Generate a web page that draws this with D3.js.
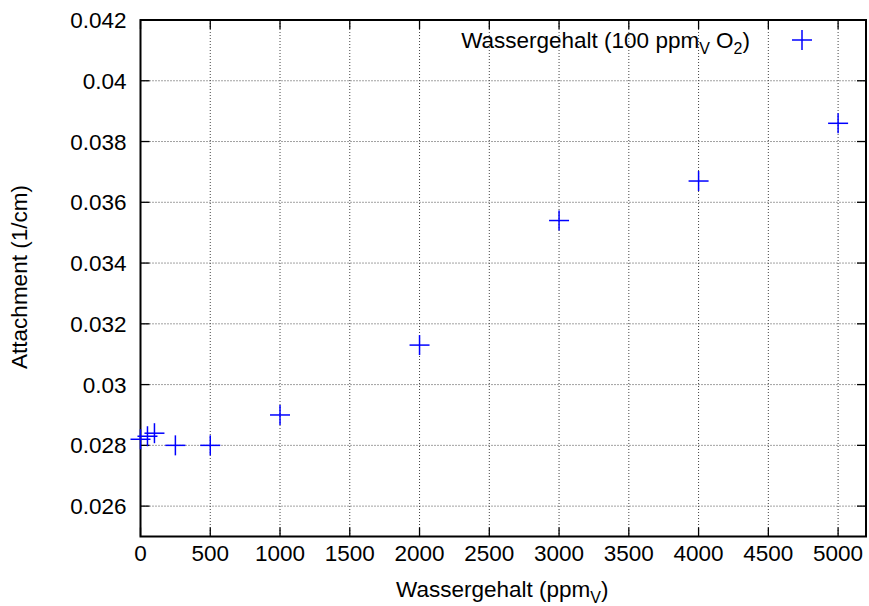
<!DOCTYPE html>
<html>
<head>
<script src="https://d3js.org/d3.v7.min.js"></script>
<style>
    body { margin: 0; background: white; }
    text { font-family: "Liberation Sans", Arial, sans-serif; font-size: 22.5px; fill: black; }
    .grid line { stroke: #444; stroke-width: 1; stroke-dasharray: 1,2; }
    .border { fill: none; stroke: black; stroke-width: 2; }
    .tick { stroke: black; stroke-width: 1.3; }
    .pt { stroke: #0000ff; stroke-width: 1.5; }
</style>
</head>
<body>
<script>
    // water content in ppmV and attachment coefficient in 1/cm
    var wasser = [0, 50, 100, 250, 500, 1000, 2000, 3000, 4000, 5000];
    var attachment = [0.0282, 0.0283, 0.0284, 0.0280, 0.0280, 0.0290, 0.0313, 0.0354, 0.0367, 0.0386];
    var xTicks = [0, 500, 1000, 1500, 2000, 2500, 3000, 3500, 4000, 4500, 5000];
    var yTicks = [0.026, 0.028, 0.03, 0.032, 0.034, 0.036, 0.038, 0.04, 0.042];

    var W = 869, H = 606;
    var mLeft = 140.5, mRight = 866, mTop = 20, mBottom = 536.5;

    var x = d3.scaleLinear().domain([0, 5200]).range([mLeft, mRight]);
    var y = d3.scaleLinear().domain([0.025, 0.042]).range([mBottom, mTop]);

    var svg = d3.select("body").append("svg").attr("width", W).attr("height", H);

    // grid
    var grid = svg.append("g").attr("class", "grid");
    grid.selectAll(".gx").data(xTicks.filter(function(d){ return d > 0; }))
        .enter().append("line")
        .attr("x1", function(d){ return x(d); }).attr("x2", function(d){ return x(d); })
        .attr("y1", mTop).attr("y2", mBottom);
    grid.selectAll(".gy").data(yTicks.filter(function(d){ return d < 0.042; }))
        .enter().append("line")
        .attr("y1", function(d){ return y(d); }).attr("y2", function(d){ return y(d); })
        .attr("x1", mLeft).attr("x2", mRight);

    // mirrored inward ticks
    var tl = 9;
    var ticks = svg.append("g");
    xTicks.forEach(function(d){
        ticks.append("line").attr("class", "tick")
            .attr("x1", x(d)).attr("x2", x(d)).attr("y1", mBottom).attr("y2", mBottom - tl);
        ticks.append("line").attr("class", "tick")
            .attr("x1", x(d)).attr("x2", x(d)).attr("y1", mTop).attr("y2", mTop + tl);
    });
    yTicks.forEach(function(d){
        ticks.append("line").attr("class", "tick")
            .attr("y1", y(d)).attr("y2", y(d)).attr("x1", mLeft).attr("x2", mLeft + tl);
        ticks.append("line").attr("class", "tick")
            .attr("y1", y(d)).attr("y2", y(d)).attr("x1", mRight).attr("x2", mRight - tl);
    });

    svg.append("rect").attr("class", "border")
        .attr("x", mLeft).attr("y", mTop).attr("width", mRight - mLeft).attr("height", mBottom - mTop);

    // tick labels
    svg.append("g").selectAll("text").data(xTicks).enter().append("text")
        .attr("x", function(d){ return x(d); }).attr("y", mBottom + 24)
        .attr("text-anchor", "middle")
        .text(function(d){ return d; });
    svg.append("g").selectAll("text").data(yTicks).enter().append("text")
        .attr("x", mLeft - 14).attr("y", function(d){ return y(d) + 8; })
        .attr("text-anchor", "end")
        .text(function(d){ return +d.toFixed(3); });

    // axis labels
    var xl = svg.append("text").attr("x", (mLeft + mRight) / 2 - 1).attr("y", 597)
        .attr("text-anchor", "middle");
    xl.append("tspan").text("Wassergehalt (ppm");
    xl.append("tspan").attr("font-size", "16px").attr("dy", 6).text("V");
    xl.append("tspan").attr("dy", -6).text(")");

    svg.append("text").attr("transform", "translate(27," + 277 + ") rotate(-90)")
        .attr("text-anchor", "middle").text("Attachment (1/cm)");

    // points
    function plus(g, cx, cy) {
        g.append("line").attr("class", "pt").attr("x1", cx - 10).attr("x2", cx + 10).attr("y1", cy).attr("y2", cy);
        g.append("line").attr("class", "pt").attr("x1", cx).attr("x2", cx).attr("y1", cy - 10).attr("y2", cy + 10);
    }
    var pts = svg.append("g");
    wasser.forEach(function(d, i){ plus(pts, x(d), y(attachment[i])); });

    // legend
    var lg = svg.append("text").attr("x", 750).attr("y", 48).attr("text-anchor", "end");
    lg.append("tspan").text("Wassergehalt (100 ppm");
    lg.append("tspan").attr("font-size", "16px").attr("dy", 6).text("V");
    lg.append("tspan").attr("dy", -6).text(" O");
    lg.append("tspan").attr("font-size", "16px").attr("dy", 6).text("2");
    lg.append("tspan").attr("dy", -6).text(")");
    plus(svg.append("g"), 802, 40);
</script>
</body>
</html>
